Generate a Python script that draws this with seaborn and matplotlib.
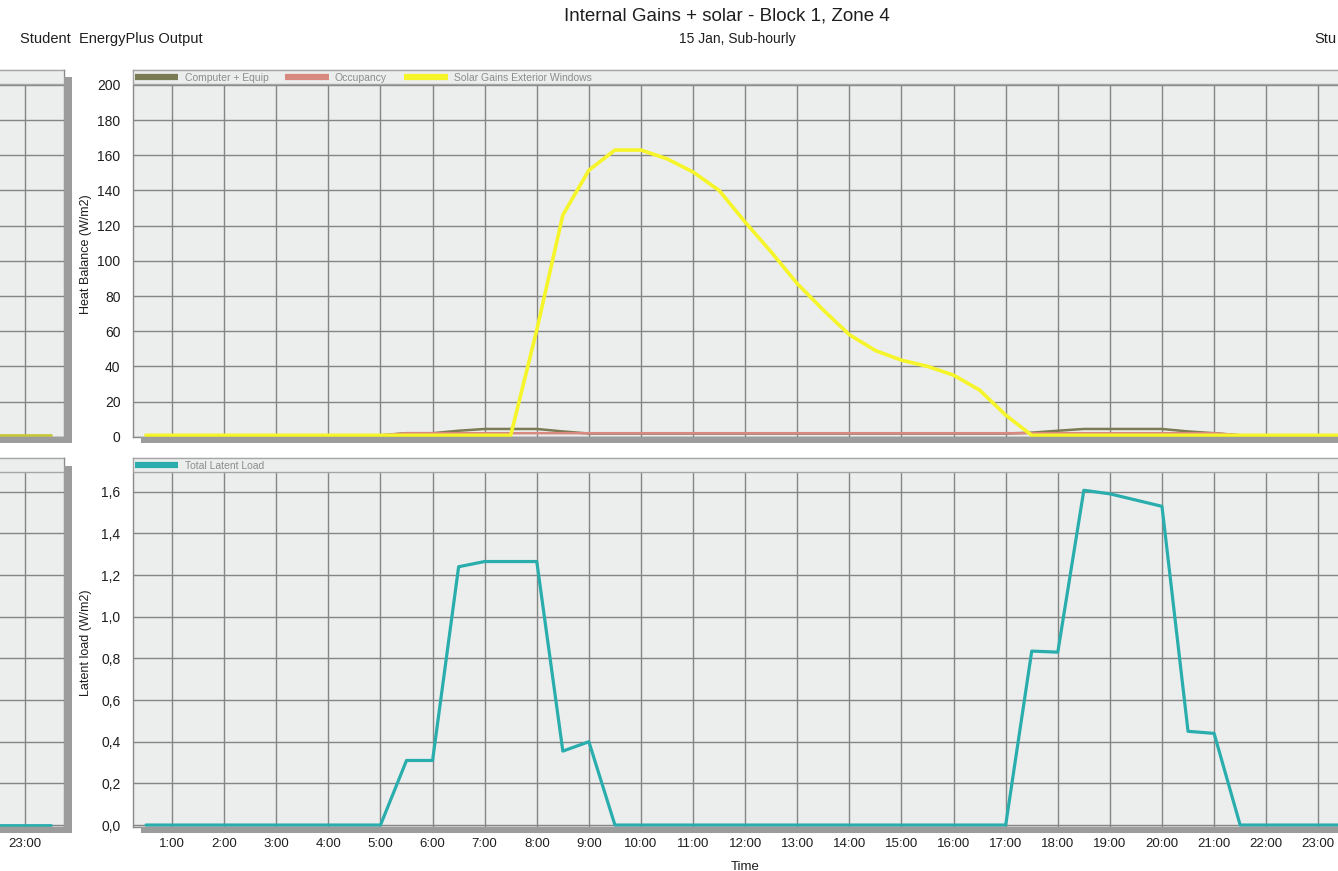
import numpy as np
import pandas as pd
import seaborn as sns
import matplotlib.pyplot as plt
from matplotlib.patches import Rectangle
from matplotlib.lines import Line2D
from matplotlib.ticker import FuncFormatter, MultipleLocator

# half-hourly values, 0:30 .. 24:00
time = np.arange(0.5, 24.01, 0.5)

solar = ([0.8] * 15 +
         [60.7, 126, 151.5, 163, 163, 158, 150.5, 140, 122, 105, 87, 72, 58, 49,
          43.5, 40, 35, 26.5, 12.3] +
         [0.8] * 14)
computer = ([0.8] * 10 +
            [2.0, 2.0, 3.4, 4.4, 4.4, 4.4, 3.0] +
            [1.8] * 17 +
            [2.3, 3.4, 4.4, 4.4, 4.4, 4.4, 3.0, 2.0] +
            [0.8] * 6)
occupancy = [0.8] * 10 + [2.0] * 32 + [0.8] * 6
latent = ([0.0] * 10 +
          [0.31, 0.31, 1.24, 1.265, 1.265, 1.265, 0.355, 0.40] +
          [0.0] * 16 +
          [0.835, 0.83, 1.607, 1.59, 1.56, 1.53, 0.45, 0.44] +
          [0.0] * 6)

# tail of the previous day's chart visible at the left edge
left_time = [21.5, 22.0, 22.5, 23.0, 23.5]
left_solar = [0.8] * 5
left_latent = [0.0] * 5

hour_labels = [f'{h}:00' for h in range(1, 24)]

df = pd.DataFrame({'time': time, 'solar': solar, 'computer': computer,
                   'occupancy': occupancy, 'latent': latent})
df_left = pd.DataFrame({'time': left_time, 'solar': left_solar, 'latent': left_latent})

c_comp = '#7b7b55'
c_occ = '#d98a80'
c_solar = '#f5f52a'
c_latent = '#2aadad'
bg = '#eceeee'
grid_c = '#858585'
txt = '#1e1e1e'

sns.set_style('white', {'axes.facecolor': bg, 'axes.edgecolor': '#8a8a8a'})
plt.rcParams['font.family'] = ['Liberation Sans', 'DejaVu Sans']

W, H = 1338, 871
fig = plt.figure(figsize=(W / 100, H / 100), dpi=100)


def box(x0, y0, x1, y1):
    # pixel box (top-left origin) -> figure rect
    return [x0 / W, 1 - y1 / H, (x1 - x0) / W, (y1 - y0) / H]


ax1 = fig.add_axes(box(133, 70, 1373, 437.5))
ax2 = fig.add_axes(box(133, 458, 1373, 826.5))
axl1 = fig.add_axes(box(-60, 70, 64, 437.5))
axl2 = fig.add_axes(box(-60, 458, 64, 826.5))

# shadows
for (x0, y0, x1, y1) in [(141, 437.5, 1340, 443), (141, 826.5, 1340, 833),
                         (64, 77, 72, 443), (-5, 437.5, 72, 443),
                         (64, 466, 72, 833), (-5, 826.5, 72, 833)]:
    fig.patches.append(Rectangle((x0 / W, 1 - y1 / H), (x1 - x0) / W, (y1 - y0) / H,
                                 transform=fig.transFigure, facecolor='#9c9c9c',
                                 edgecolor='none', zorder=0))

sns.lineplot(data=df, x='time', y='computer', ax=ax1, color=c_comp, lw=1.8)
sns.lineplot(data=df, x='time', y='occupancy', ax=ax1, color=c_occ, lw=1.8)
sns.lineplot(data=df, x='time', y='solar', ax=ax1, color=c_solar, lw=2.6)
sns.lineplot(data=df, x='time', y='latent', ax=ax2, color=c_latent, lw=2.3)
sns.lineplot(data=df_left, x='time', y='solar', ax=axl1, color='#c8c83a', lw=2.0)
sns.lineplot(data=df_left, x='time', y='latent', ax=axl2, color=c_latent, lw=2.0)

for ax in (ax1, ax2):
    ax.set_xlim(0.25, 24.05)
for ax in (axl1, axl2):
    ax.set_xlim(21.37, 23.75)
for ax in (ax1, axl1):
    ax.set_ylim(-0.45, 208.5)
    ax.yaxis.set_major_locator(MultipleLocator(20))
for ax in (ax2, axl2):
    ax.set_ylim(-0.007, 1.762)
    ax.yaxis.set_major_locator(MultipleLocator(0.2))

ax1.yaxis.set_major_formatter(FuncFormatter(lambda v, _: f'{v:.0f}'))
ax2.yaxis.set_major_formatter(FuncFormatter(lambda v, _: f'{v:.1f}'.replace('.', ',')))

for ax in (ax1, ax2, axl1, axl2):
    ax.set_axisbelow(True)
    ax.grid(True, color=grid_c, lw=1)
    for s in ax.spines.values():
        s.set_color('#8a8a8a')
        s.set_linewidth(1)
    ax.set_xlabel('')
    ax.set_ylabel('')
    # legend band across the top of each panel
    band = 14 / 367.5
    ax.add_patch(Rectangle((0, 1 - band), 1, band, transform=ax.transAxes,
                           facecolor=bg, edgecolor='#a5a5a5', lw=1, zorder=2.6))

for ax in (ax1, ax2):
    ax.set_xticks(range(1, 24))
    ax.tick_params(axis='y', length=8, width=1, color='#555555', pad=1,
                   labelsize=10, labelcolor=txt)
ax2.set_xticklabels(hour_labels)
ax2.tick_params(axis='x', length=0, pad=8, labelsize=9.5, labelcolor=txt)
ax1.tick_params(axis='x', length=0, labelbottom=False)

axl1.set_xticks([22, 23])
axl2.set_xticks([22, 23])
axl2.set_xticklabels(['', '23:00'])
axl1.tick_params(axis='both', length=0, labelbottom=False, labelleft=False)
axl2.tick_params(axis='y', length=0, labelleft=False)
axl2.tick_params(axis='x', length=0, pad=8, labelsize=9.5, labelcolor=txt)

ax1.set_ylabel('Heat Balance (W/m2)', fontsize=9, color=txt)
ax1.yaxis.set_label_coords(-0.033, 0.5)
ax2.set_ylabel('Latent load (W/m2)', fontsize=9, color=txt)
ax2.yaxis.set_label_coords(-0.033, 0.5)
ax2.set_xlabel('Time', fontsize=9.5, color=txt)
ax2.xaxis.set_label_coords(0.4936, -0.093)

# legends in the top bands
h1 = [Line2D([], [], color=c_comp, lw=4.5, solid_capstyle='butt'),
      Line2D([], [], color=c_occ, lw=4.5, solid_capstyle='butt'),
      Line2D([], [], color=c_solar, lw=4.5, solid_capstyle='butt')]
leg1 = ax1.legend(h1, ['Computer + Equip', 'Occupancy', 'Solar Gains Exterior Windows'],
                  loc='upper left', bbox_to_anchor=(0.0, 0.996), ncol=3, frameon=False,
                  fontsize=7.5, handlelength=4.2, handletextpad=0.6, columnspacing=1.6,
                  borderpad=0.15, borderaxespad=0.0, labelcolor='#8c8c8c')
leg1.set_zorder(5)
h2 = [Line2D([], [], color=c_latent, lw=4.5, solid_capstyle='butt')]
leg2 = ax2.legend(h2, ['Total Latent Load'], loc='upper left', bbox_to_anchor=(0.0, 0.996),
                  frameon=False, fontsize=7.5, handlelength=4.2, handletextpad=0.6,
                  borderpad=0.15, borderaxespad=0.0, labelcolor='#8c8c8c')
leg2.set_zorder(5)

# titles
fig.text(727 / W, 1 - 16 / H, 'Internal Gains + solar - Block 1, Zone 4',
         ha='center', va='center', fontsize=13.5, color=txt)
fig.text(737 / W, 1 - 39 / H, '15 Jan, Sub-hourly', ha='center', va='center',
         fontsize=10, color=txt)
fig.text(20 / W, 1 - 39 / H, 'Student  EnergyPlus Output', ha='left', va='center',
         fontsize=10.5, color=txt)
fig.text(1314 / W, 1 - 39 / H, 'Stu', ha='left', va='center',
         fontsize=10.5, color=txt)

fig.savefig('out.png', dpi=100, facecolor='white')
